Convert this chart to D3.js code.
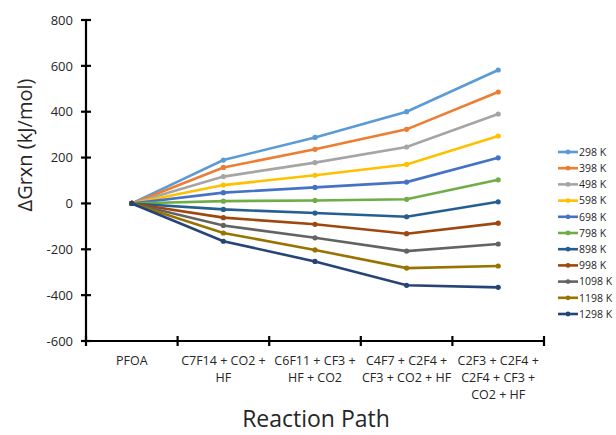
<!DOCTYPE html>
<html>
<head>
<meta charset="utf-8">
<script src="https://d3js.org/d3.v7.min.js"></script>
<style>
  body { margin: 0; background: #fff; }
  text { font-family: "Open Sans", sans-serif; }
</style>
</head>
<body>
<svg width="616" height="435"></svg>
<script>
// reaction path steps (x categories), each label split into lines
var steps = ["PFOA", "C7F14 + CO2 +|HF", "C6F11 + CF3 +|HF + CO2",
             "C4F7 + C2F4 +|CF3 + CO2 + HF", "C2F3 + C2F4 +|C2F4 + CF3 +|CO2 + HF"];
var temps = ["298 K", "398 K", "498 K", "598 K", "698 K", "798 K",
             "898 K", "998 K", "1098 K", "1198 K", "1298 K"];
var colors = ["#5B9BD5", "#ED7D31", "#A5A5A5", "#FFC000", "#4472C4", "#70AD47",
              "#255E91", "#9E480E", "#636363", "#997300", "#264478"];
// ΔGrxn in kJ/mol, one row per temperature
var g298  = [0, 189, 288, 400, 582];
var g398  = [0, 157, 236, 323, 486];
var g498  = [0, 117, 178, 246, 390];
var g598  = [0, 80, 123, 170, 294];
var g698  = [0, 47, 70, 93, 199];
var g798  = [0, 10, 13, 18, 103];
var g898  = [0, -26, -42, -58, 7];
var g998  = [0, -62, -91, -132, -86];
var g1098 = [0, -96, -150, -208, -177];
var g1198 = [0, -129, -203, -282, -273];
var g1298 = [0, -165, -253, -357, -366];
var yTicks = [-600, -400, -200, 0, 200, 400, 600, 800];

var series = [g298, g398, g498, g598, g698, g798, g898, g998, g1098, g1198, g1298];

var svg = d3.select("svg"),
    margin = {top: 20, right: 72, bottom: 94, left: 86},
    width = +svg.attr("width") - margin.left - margin.right,
    height = +svg.attr("height") - margin.top - margin.bottom;

var x = d3.scaleBand().domain(steps).range([0, width]).padding(0);
var y = d3.scaleLinear().domain([-600, 800]).range([height, 0]);

var g = svg.append("g")
    .attr("transform", "translate(" + margin.left + "," + margin.top + ")");

// y axis with cross ticks
var yAxis = g.append("g")
    .call(d3.axisLeft(y).tickValues(yTicks).tickSize(0).tickPadding(13)
        .tickFormat(function(d) { return String(d); }));
yAxis.select(".domain").remove();
yAxis.selectAll("text").style("font-size", "13px").style("fill", "#262626");
g.append("line").attr("x1", 0).attr("x2", 0).attr("y1", 0).attr("y2", height)
    .attr("stroke", "#000").attr("stroke-width", 2.2);
g.selectAll(".ytick").data(yTicks).enter().append("line")
    .attr("x1", -5).attr("x2", 5)
    .attr("y1", function(d) { return y(d); }).attr("y2", function(d) { return y(d); })
    .attr("stroke", "#000").attr("stroke-width", 2.2);

// x axis at bottom with cross ticks at band edges
g.append("line").attr("x1", 0).attr("x2", width).attr("y1", height).attr("y2", height)
    .attr("stroke", "#000").attr("stroke-width", 2.2);
var edges = steps.map(function(s) { return x(s); }).concat([width]);
g.selectAll(".xtick").data(edges).enter().append("line")
    .attr("x1", function(d) { return d; }).attr("x2", function(d) { return d; })
    .attr("y1", height - 5).attr("y2", height + 5)
    .attr("stroke", "#000").attr("stroke-width", 2.2);

g.selectAll(".xlab").data(steps).enter().append("text")
    .attr("x", function(d) { return x(d) + x.bandwidth() / 2; })
    .attr("y", height + 24)
    .attr("text-anchor", "middle")
    .style("font-size", "12.5px").style("fill", "#262626")
    .each(function(d) {
        var t = d3.select(this);
        d.split("|").forEach(function(line, i) {
            t.append("tspan").attr("x", x(d) + x.bandwidth() / 2)
                .attr("dy", i ? 17 : 0).text(line);
        });
    });

// lines and markers
var line = d3.line()
    .x(function(d, i) { return x(steps[i]) + x.bandwidth() / 2; })
    .y(function(d) { return y(d); });

series.forEach(function(s, k) {
    g.append("path").datum(s)
        .attr("d", line)
        .attr("fill", "none")
        .attr("stroke", colors[k])
        .attr("stroke-width", 2.6);
    g.selectAll(".pt" + k).data(s).enter().append("circle")
        .attr("cx", function(d, i) { return x(steps[i]) + x.bandwidth() / 2; })
        .attr("cy", function(d) { return y(d); })
        .attr("r", 2.6)
        .attr("fill", colors[k]);
});

// axis titles
svg.append("text")
    .attr("transform", "translate(32,145) rotate(-90)")
    .attr("text-anchor", "middle")
    .style("font-size", "20px").style("fill", "#262626")
    .text("ΔGrxn (kJ/mol)");
svg.append("text")
    .attr("x", 316).attr("y", 427)
    .attr("text-anchor", "middle")
    .style("font-size", "23px").style("fill", "#262626")
    .text("Reaction Path");

// legend
var leg = svg.append("g").attr("transform", "translate(558,152)");
temps.forEach(function(t, i) {
    var row = leg.append("g").attr("transform", "translate(0," + (i * 16.2) + ")");
    row.append("line").attr("x1", 0).attr("x2", 20)
        .attr("stroke", colors[i]).attr("stroke-width", 2.6);
    row.append("circle").attr("cx", 10).attr("r", 2.4).attr("fill", colors[i]);
    row.append("text").attr("x", 21).attr("y", 3.8)
        .style("font-size", "10.5px").style("fill", "#262626").text(t);
});
</script>
</body>
</html>
